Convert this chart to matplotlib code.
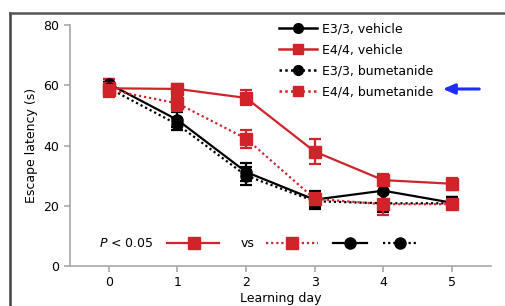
import matplotlib.pyplot as plt
from matplotlib.lines import Line2D

days = [0, 1, 2, 3, 4, 5]

e33_veh = [60.5, 48.5, 31.2, 22.0, 25.0, 21.0]
e33_veh_err = [1.5, 2.5, 3.0, 3.0, 3.0, 2.0]
e44_veh = [59.0, 58.8, 55.8, 38.0, 28.5, 27.3]
e44_veh_err = [3.0, 1.5, 2.5, 4.0, 2.0, 2.0]
e33_bum = [59.0, 47.0, 30.0, 21.5, 20.8, 20.8]
e33_bum_err = [2.0, 2.0, 3.0, 2.0, 3.0, 2.0]
e44_bum = [58.5, 54.0, 42.3, 22.3, 20.5, 20.5]
e44_bum_err = [2.0, 2.5, 3.0, 2.0, 3.5, 1.5]

labels = ['E3/3, vehicle', 'E4/4, vehicle', 'E3/3, bumetanide', 'E4/4, bumetanide']

RED = '#d0242b'
DOT = (0, (1, 1.3))

fig = plt.figure(figsize=(5.06, 3.06), dpi=100)
ax = fig.add_axes([0.138, 0.131, 0.832, 0.787])

series = [
    (e33_veh, e33_veh_err, 'black', '-', 'o'),
    (e44_veh, e44_veh_err, RED, '-', 's'),
    (e33_bum, e33_bum_err, 'black', DOT, 'o'),
    (e44_bum, e44_bum_err, RED, DOT, 's'),
]
handles = []
for (vals, err, c, ls, mk), lab in zip(series, labels):
    ax.errorbar(days, vals, yerr=err, color=c, linestyle=ls, linewidth=1.6,
                marker=mk, markersize=8, capsize=4, capthick=1.6, elinewidth=1.6)
    handles.append(Line2D([], [], color=c, linestyle=ls, linewidth=1.8,
                          marker=mk, markersize=7, label=lab))

ax.legend(handles=handles, loc='upper left', bbox_to_anchor=(0.485, 1.03),
          frameon=False, fontsize=9, handlelength=3.0, handletextpad=0.4,
          labelspacing=0.62, borderaxespad=0)

# significance key along the bottom
y_key = 0.095
ax.text(0.07, y_key, r'$P$ < 0.05', transform=ax.transAxes, fontsize=9,
        va='center', ha='left')
ax.plot([0.23, 0.355], [y_key] * 2, transform=ax.transAxes, color=RED, lw=1.6)
ax.plot([0.296], [y_key], transform=ax.transAxes, color=RED, marker='s', ms=8)
ax.text(0.405, y_key, 'vs', transform=ax.transAxes, fontsize=9, va='center')
ax.plot([0.465, 0.59], [y_key] * 2, transform=ax.transAxes, color=RED, lw=1.6, ls=DOT)
ax.plot([0.528], [y_key], transform=ax.transAxes, color=RED, marker='s', ms=8)
ax.plot([0.625, 0.705], [y_key] * 2, transform=ax.transAxes, color='black', lw=1.6)
ax.plot([0.665], [y_key], transform=ax.transAxes, color='black', marker='o', ms=8)
ax.plot([0.745, 0.825], [y_key] * 2, transform=ax.transAxes, color='black', lw=1.6, ls=DOT)
ax.plot([0.785], [y_key], transform=ax.transAxes, color='black', marker='o', ms=8)

ax.set_xlim(-0.57, 5.57)
ax.set_ylim(0, 80)
ax.set_xticks(days)
ax.set_yticks([0, 20, 40, 60, 80])
ax.set_xlabel('Learning day', fontsize=9, labelpad=2)
ax.set_ylabel('Escape latency (s)', fontsize=9, labelpad=4)
for s in ['top', 'right']:
    ax.spines[s].set_visible(False)
for s in ['left', 'bottom']:
    ax.spines[s].set_color('#a8a8a8')
    ax.spines[s].set_linewidth(1.2)
ax.tick_params(colors='#a8a8a8', labelcolor='black', labelsize=9, length=4,
               width=1.2)

# blue arrow pointing at the E4/4 bumetanide legend entry
fig.patches.append(plt.matplotlib.patches.FancyArrowPatch(
    (482 / 506, 1 - 89 / 306), (440 / 506, 1 - 89 / 306), transform=fig.transFigure,
    arrowstyle='-|>,head_length=7,head_width=3', color='#1f2bff', lw=2.2))

# screenshot frame
fig.add_artist(Line2D([10 / 506, 10 / 506], [0, 1 - 13 / 306],
                      transform=fig.transFigure, color='#444444', lw=1.8))
fig.add_artist(Line2D([10 / 506, 1], [1 - 13 / 306, 1 - 13 / 306],
                      transform=fig.transFigure, color='#555555', lw=1.8))

fig.savefig('out.png', dpi=100)
